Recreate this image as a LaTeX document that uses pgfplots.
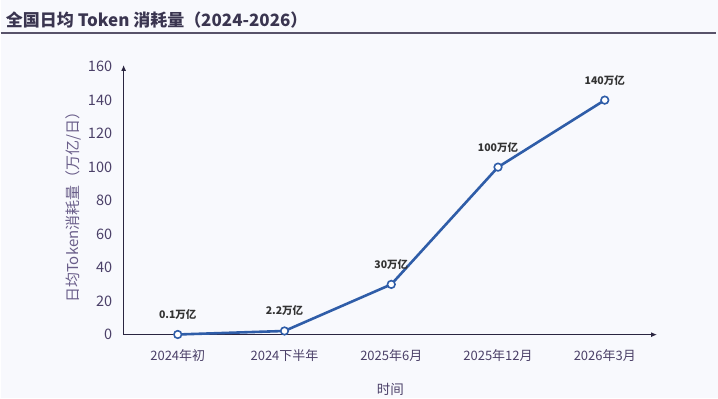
\documentclass[border=0pt]{standalone}
\usepackage{fontspec}
\setmainfont{Noto Sans CJK SC}
\usepackage{pgfplots}
\pgfplotsset{compat=1.18}
\usetikzlibrary{arrows.meta}
\definecolor{bg}{HTML}{F8F9FD}
\definecolor{txt}{HTML}{4B4068}
\definecolor{ylab}{HTML}{6A5E8A}
\definecolor{ttl}{HTML}{3A3550}
\definecolor{line}{HTML}{2F5DA8}
\definecolor{axc}{HTML}{2A2540}
\begin{document}
\begin{tikzpicture}[x=1pt,y=1pt]
\fill[bg] (0,0) rectangle (718,-398);
\node[anchor=west,font=\fontsize{17}{19}\selectfont\bfseries,text=ttl,inner sep=0pt] at (5,-20) {全国日均 Token 消耗量（2024-2026）};
\draw[color=ttl!85,line width=1.5pt] (0,-33) -- (716,-33);
\begin{axis}[
  at={(123pt,-335pt)}, anchor=south west,
  scale only axis, width=534pt, height=270pt,
  axis lines=left,
  axis line style={color=axc,line width=1.3pt,-{Latex[length=6pt,width=5pt]}},
  xmin=-0.507, xmax=4.49,
  ymin=0, ymax=161,
  ytick={0,20,...,160},
  xtick={0,1,2,3,4},
  xticklabels={2024年初,2024下半年,2025年6月,2025年12月,2026年3月},
  major tick length=0pt,
  tick label style={color=txt},
  yticklabel style={xshift=-8pt,font=\fontsize{14.5}{16}\selectfont},
  xticklabel style={yshift=-11pt,font=\fontsize{13}{15}\selectfont},
  /pgf/number format/assume math mode=true,
  ylabel={日均Token消耗量（万亿/日）},
  ylabel style={color=ylab,font=\fontsize{15}{17}\selectfont,at={(axis description cs:-0.094,0.485)},anchor=center},
  xlabel={时间},
  xlabel style={color=txt,font=\fontsize{13.5}{15}\selectfont,yshift=-15pt},
  clip=false,
]
\addplot[color=line,line width=2.6pt,mark=*,mark size=3.8pt,
  mark options={fill=white,draw=line,line width=1.6pt},
  nodes near coords, point meta=explicit symbolic,
  every node near coord/.append style={font=\fontsize{10.5}{12}\selectfont\bfseries,text=black!80,anchor=south,yshift=11pt}]
  coordinates {(0,0.1)[0.1万亿] (1,2.2)[2.2万亿] (2,30)[30万亿] (3,100)[100万亿] (4,140)[140万亿]};
\end{axis}
\end{tikzpicture}
\end{document}
